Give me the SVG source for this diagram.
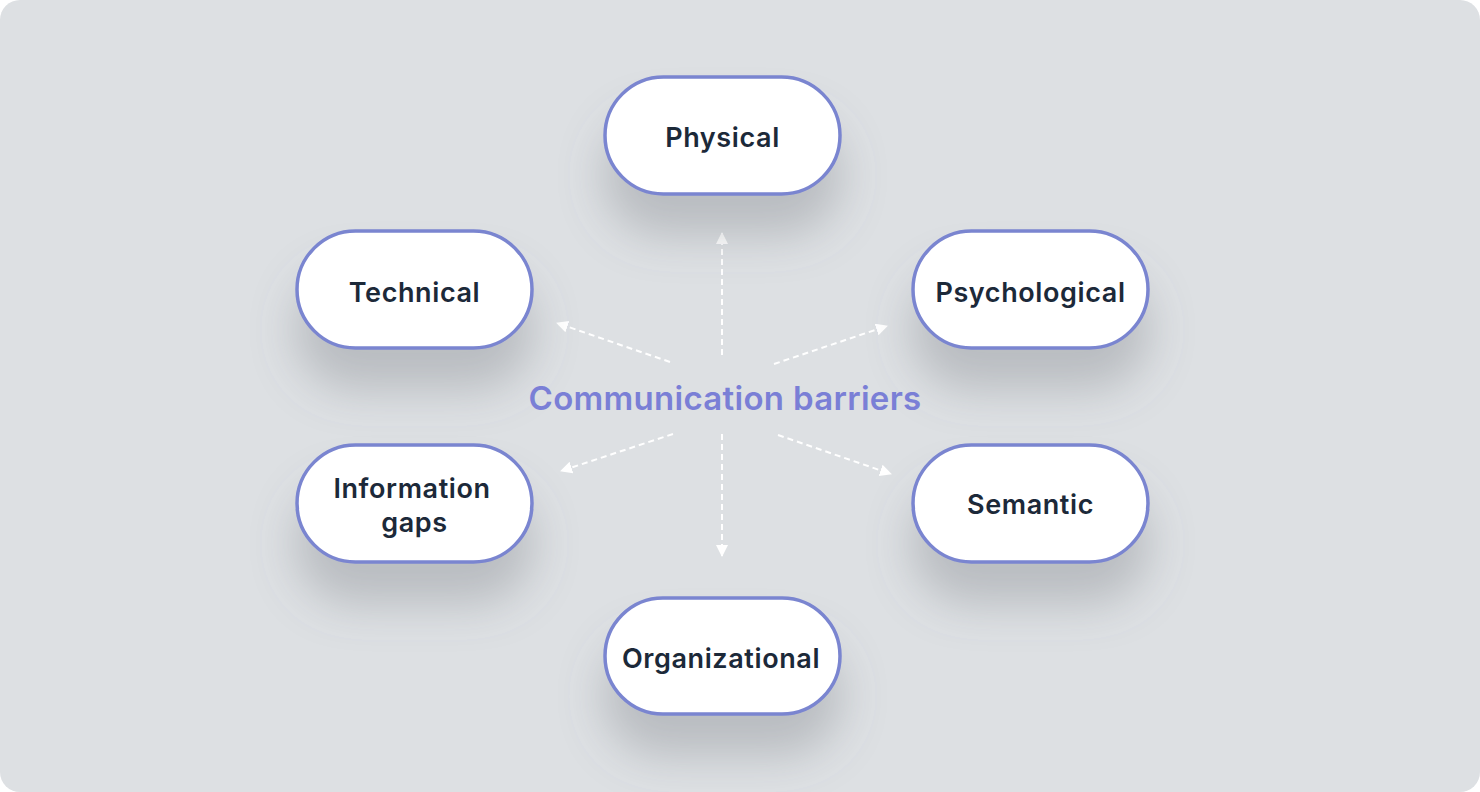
<svg xmlns="http://www.w3.org/2000/svg" width="1480" height="792" viewBox="0 0 1480 792">
<style>
.node rect{fill:#ffffff;stroke:#7a85d0;stroke-width:3.5}
.lbl{font-family:Inter,"Noto Sans","Liberation Sans",sans-serif;font-weight:600;font-size:27px;letter-spacing:0.6px;fill:#1c2939;text-anchor:middle;dominant-baseline:central}
.title{font-family:Inter,"Noto Sans","Liberation Sans",sans-serif;font-weight:600;font-size:33px;letter-spacing:0.3px;fill:#7a7fd6;text-anchor:middle;dominant-baseline:central}
.conn line{stroke:#ffffff;stroke-width:2;stroke-dasharray:6 4;marker-end:url(#ah)}
</style>
<defs>
<filter id="sh" x="-50%" y="-50%" width="200%" height="250%">
<feDropShadow dx="0" dy="40" stdDeviation="22" flood-color="#6e737c" flood-opacity="0.32"/>
</filter>
<marker id="ah" markerUnits="userSpaceOnUse" markerWidth="14" markerHeight="14" refX="11" refY="6" orient="auto">
<path d="M0,0 L12,6 L0,12 Z" fill="#ffffff"/>
</marker>
</defs>
<rect x="0" y="0" width="1480" height="792" fill="#ffffff"/>
<rect x="0" y="0" width="1480" height="792" rx="20" fill="#dde0e3"/>
<g class="conn" id="connectors">
<line x1="722" y1="355" x2="722" y2="233"/>
<line x1="670" y1="362" x2="557" y2="323"/>
<line x1="774" y1="364" x2="887" y2="326"/>
<line x1="673" y1="434" x2="561" y2="471"/>
<line x1="722" y1="434" x2="722" y2="556"/>
<line x1="778" y1="435" x2="891" y2="474"/>
</g>
<g id="n-physical" class="node"><rect x="605" y="77" width="235" height="117" rx="58.5" filter="url(#sh)"/><text class="lbl" x="722.5" y="137">Physical</text></g>
<g id="n-technical" class="node"><rect x="297" y="231" width="235" height="117" rx="58.5" filter="url(#sh)"/><text class="lbl" x="414.5" y="292">Technical</text></g>
<g id="n-psychological" class="node"><rect x="913" y="231" width="235" height="117" rx="58.5" filter="url(#sh)"/><text class="lbl" x="1030.5" y="292">Psychological</text></g>
<g id="n-information" class="node"><rect x="297" y="445" width="235" height="117" rx="58.5" filter="url(#sh)"/><text class="lbl" x="412" y="488">Information</text><text class="lbl" x="414.5" y="522">gaps</text></g>
<g id="n-semantic" class="node"><rect x="913" y="445" width="235" height="117" rx="58.5" filter="url(#sh)"/><text class="lbl" x="1030.5" y="504">Semantic</text></g>
<g id="n-organizational" class="node"><rect x="605" y="598" width="235" height="116" rx="58" filter="url(#sh)"/><text class="lbl" x="721" y="658">Organizational</text></g>
<g id="n-center"><text class="title" x="725" y="398">Communication barriers</text></g>
</svg>
